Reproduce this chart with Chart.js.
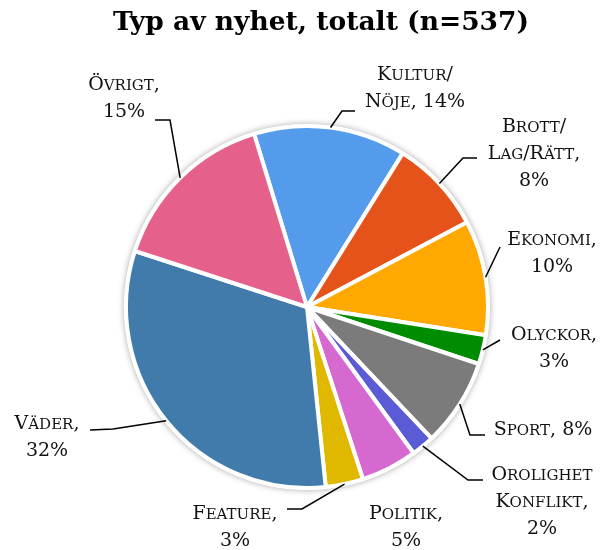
<!DOCTYPE html>
<html>
<head>
<meta charset="utf-8">
<script src="https://cdn.jsdelivr.net/npm/chart.js@4.4.1/dist/chart.umd.min.js"></script>
<style>
  html, body { margin: 0; padding: 0; background: #fff; }
</style>
</head>
<body>
<canvas id="chart" width="600" height="550"></canvas>
<script>
const TITLE = 'Typ av nyhet, totalt (n=537)';
const categories = ['Kultur/\nNöje', 'Brott/\nLag/Rätt', 'Ekonomi', 'Olyckor', 'Sport', 'Orolighet\nKonflikt', 'Politik', 'Feature', 'Väder', 'Övrigt'];
const counts = [73, 45, 55, 14, 42, 11, 27, 18, 170, 82];
const colors = ['#559bec', '#e5531a', '#ffa800', '#008c00', '#7b7b7b', '#5b5bd6', '#d669cf', '#e0b800', '#407bab', '#e5608a'];

// where each label sits and how its leader line bends before reaching the slice
const labelLayout = [
  { x: 415, y: 73, inline: true, leader: [[355, 111], [342, 111]] },
  { x: 534, y: 125, leader: [[477, 158], [463, 158]] },
  { x: 552, y: 238, leader: [[500, 247]] },
  { x: 554, y: 333, leader: [[500, 340]] },
  { x: 543, y: 428, inline: true, leader: [[485, 435], [470, 435]] },
  { x: 542, y: 473, leader: [[483, 480], [468, 480]] },
  { x: 406, y: 512, leader: null },
  { x: 235, y: 512, leader: [[287, 509], [302, 509]] },
  { x: 47, y: 422, leader: [[90, 430], [113, 429]] },
  { x: 124, y: 83, leader: [[155, 120], [170, 120]] },
];

const LINE_H = 27;
const LABEL_SIZE = 19;
const LABEL_FAMILY = '"DejaVu Serif"';
const TITLE_FONT = 'bold 26.5px "DejaVu Serif"';

// small caps by hand: lower case letters drawn as smaller capitals
function drawSmallCaps(ctx, text, cx, cy) {
  const big = `${LABEL_SIZE}px ${LABEL_FAMILY}`;
  const small = `${Math.round(LABEL_SIZE * 0.8)}px ${LABEL_FAMILY}`;
  const runs = [];
  for (const ch of text) {
    const isLower = ch !== ch.toUpperCase();
    const font = isLower ? small : big;
    const glyph = isLower ? ch.toUpperCase() : ch;
    const last = runs[runs.length - 1];
    if (last && last.font === font) last.text += glyph;
    else runs.push({ font, text: glyph });
  }
  let width = 0;
  runs.forEach((r) => {
    ctx.font = r.font;
    r.w = ctx.measureText(r.text).width;
    width += r.w;
  });
  let x = cx - width / 2;
  const baseline = cy + LABEL_SIZE * 0.37;
  runs.forEach((r) => {
    ctx.font = r.font;
    ctx.fillText(r.text, x, baseline);
    x += r.w;
  });
}

const pieLabels = {
  id: 'pieLabels',
  beforeDatasetsDraw(chart) {
    const arc = chart.getDatasetMeta(0).data[0];
    if (!arc) return;
    const ctx = chart.ctx;
    ctx.save();
    ctx.shadowColor = 'rgba(0, 0, 0, 0.35)';
    ctx.shadowBlur = 6;
    ctx.fillStyle = '#fff';
    ctx.beginPath();
    ctx.arc(arc.x, arc.y, arc.outerRadius + 2, 0, Math.PI * 2);
    ctx.fill();
    ctx.restore();
  },
  afterDatasetsDraw(chart) {
    const ctx = chart.ctx;
    const total = counts.reduce((a, b) => a + b, 0);
    const meta = chart.getDatasetMeta(0);

    ctx.save();
    ctx.strokeStyle = '#000';
    ctx.lineWidth = 1.5;
    ctx.fillStyle = '#111';
    ctx.textAlign = 'left';
    ctx.textBaseline = 'alphabetic';

    meta.data.forEach((arc, i) => {
      const p = arc.getProps(['x', 'y', 'startAngle', 'endAngle', 'outerRadius'], true);
      const mid = (p.startAngle + p.endAngle) / 2;
      const ax = p.x + Math.cos(mid) * p.outerRadius;
      const ay = p.y + Math.sin(mid) * p.outerRadius;
      const lay = labelLayout[i];

      if (lay.leader) {
        ctx.beginPath();
        ctx.moveTo(lay.leader[0][0], lay.leader[0][1]);
        lay.leader.slice(1).forEach((pt) => ctx.lineTo(pt[0], pt[1]));
        ctx.lineTo(ax, ay);
        ctx.stroke();
      }

      const pct = Math.round(counts[i] / total * 100) + '%';
      const lines = categories[i].split('\n');
      if (lay.inline) {
        lines[lines.length - 1] += ', ' + pct;
      } else {
        lines[lines.length - 1] += ',';
        lines.push(pct);
      }
      lines.forEach((line, k) => drawSmallCaps(ctx, line, lay.x, lay.y + k * LINE_H));
    });
    ctx.restore();
  },
  afterDraw(chart) {
    const ctx = chart.ctx;
    ctx.save();
    ctx.font = TITLE_FONT;
    ctx.fillStyle = '#000';
    ctx.textAlign = 'center';
    ctx.textBaseline = 'middle';
    ctx.fillText(TITLE, 321, 23);
    ctx.restore();
  },
};

new Chart(document.getElementById('chart').getContext('2d'), {
  type: 'pie',
  data: {
    labels: categories,
    datasets: [
      {
        data: counts,
        backgroundColor: colors,
        borderColor: '#fff',
        borderWidth: 4,
      },
    ],
  },
  options: {
    responsive: false,
    animation: false,
    devicePixelRatio: 1,
    rotation: -17,
    radius: 181,
    layout: { padding: { left: 64, right: 50, top: 114, bottom: 50 } },
    plugins: {
      legend: { display: false },
      tooltip: { enabled: false },
      title: { display: false },
    },
  },
  plugins: [pieLabels],
});
</script>
</body>
</html>
